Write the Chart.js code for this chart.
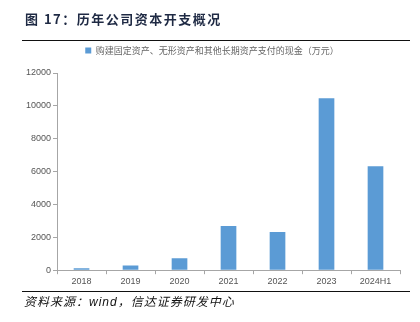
<!DOCTYPE html>
<html>
<head>
<meta charset="utf-8">
<script src="https://cdn.jsdelivr.net/npm/chart.js@4/dist/chart.umd.min.js"></script>
<style>
  body { margin: 0; background: #fff; font-family: "Liberation Sans", Arial, sans-serif; }
  #wrap { position: relative; width: 420px; height: 322px; }
  #chart { position: absolute; left: 0; top: 0; }
  .title { position: absolute; left: 25px; top: 9px; font-size: 13px; font-weight: bold; color: #1f2a44; letter-spacing: 1.5px;
           font-family: "Noto Sans CJK SC", "Liberation Sans", sans-serif; }
  .rule { position: absolute; left: 22px; width: 388px; height: 0; border-top: 1.5px solid #111; }
  .src { position: absolute; left: 24px; top: 292px; font-size: 12px; font-style: italic; color: #111; letter-spacing: 1px;
         font-family: "Noto Sans CJK SC", "Liberation Sans", sans-serif; }
</style>
</head>
<body>
<div id="wrap">
  <canvas id="chart" width="420" height="322"></canvas>
  <div class="title">图 17：历年公司资本开支概况</div>
  <div class="rule" style="top:40px"></div>
  <div class="rule" style="top:291px"></div>
  <div class="src"><span>资料来源：</span><span style="font-family:'Liberation Sans'">wind</span>，信达证券研发中心</div>
</div>
<script>
const years = ["2018", "2019", "2020", "2021", "2022", "2023", "2024H1"];
const capex = [120, 280, 720, 2690, 2330, 10460, 6330];
const seriesName = "购建固定资产、无形资产和其他长期资产支付的现金（万元）";
const yTicks = { min: 0, max: 12000, step: 2000 };

const ctx = document.getElementById("chart").getContext("2d");
const axisColor = "#a6a6a6";

// extra room between the legend and the plot
const legendGap = {
    id: "legendGap",
    beforeInit(chart) {
        const fit = chart.legend.fit;
        chart.legend.fit = function () {
            fit.bind(chart.legend)();
            this.height += 8;
        };
    }
};

new Chart(ctx, {
    type: "bar",
    data: {
        labels: years,
        datasets: [
            {
                label: seriesName,
                data: capex,
                backgroundColor: "#5b9bd5",
                borderWidth: 0,
                categoryPercentage: 1,
                barPercentage: 0.32
            }
        ]
    },
    plugins: [legendGap],
    options: {
        responsive: false,
        animation: false,
        layout: { padding: { top: 36, right: 20, bottom: 33, left: 24 } },
        plugins: {
            legend: {
                labels: {
                    boxWidth: 6,
                    boxHeight: 6,
                    color: "#666",
                    font: { size: 9, family: "'Noto Sans CJK SC', sans-serif" }
                }
            },
            tooltip: { enabled: false }
        },
        scales: {
            x: {
                grid: { drawOnChartArea: false, drawTicks: true, tickLength: 4, color: axisColor },
                border: { color: axisColor },
                ticks: { color: "#555", font: { size: 9 }, padding: 2 }
            },
            y: {
                min: yTicks.min,
                max: yTicks.max,
                grid: { drawOnChartArea: false, drawTicks: true, tickLength: 4, color: axisColor },
                border: { color: axisColor },
                ticks: {
                    stepSize: yTicks.step,
                    color: "#555",
                    font: { size: 9 },
                    padding: 2,
                    callback: (v) => String(v)
                }
            }
        }
    }
});
</script>
</body>
</html>
